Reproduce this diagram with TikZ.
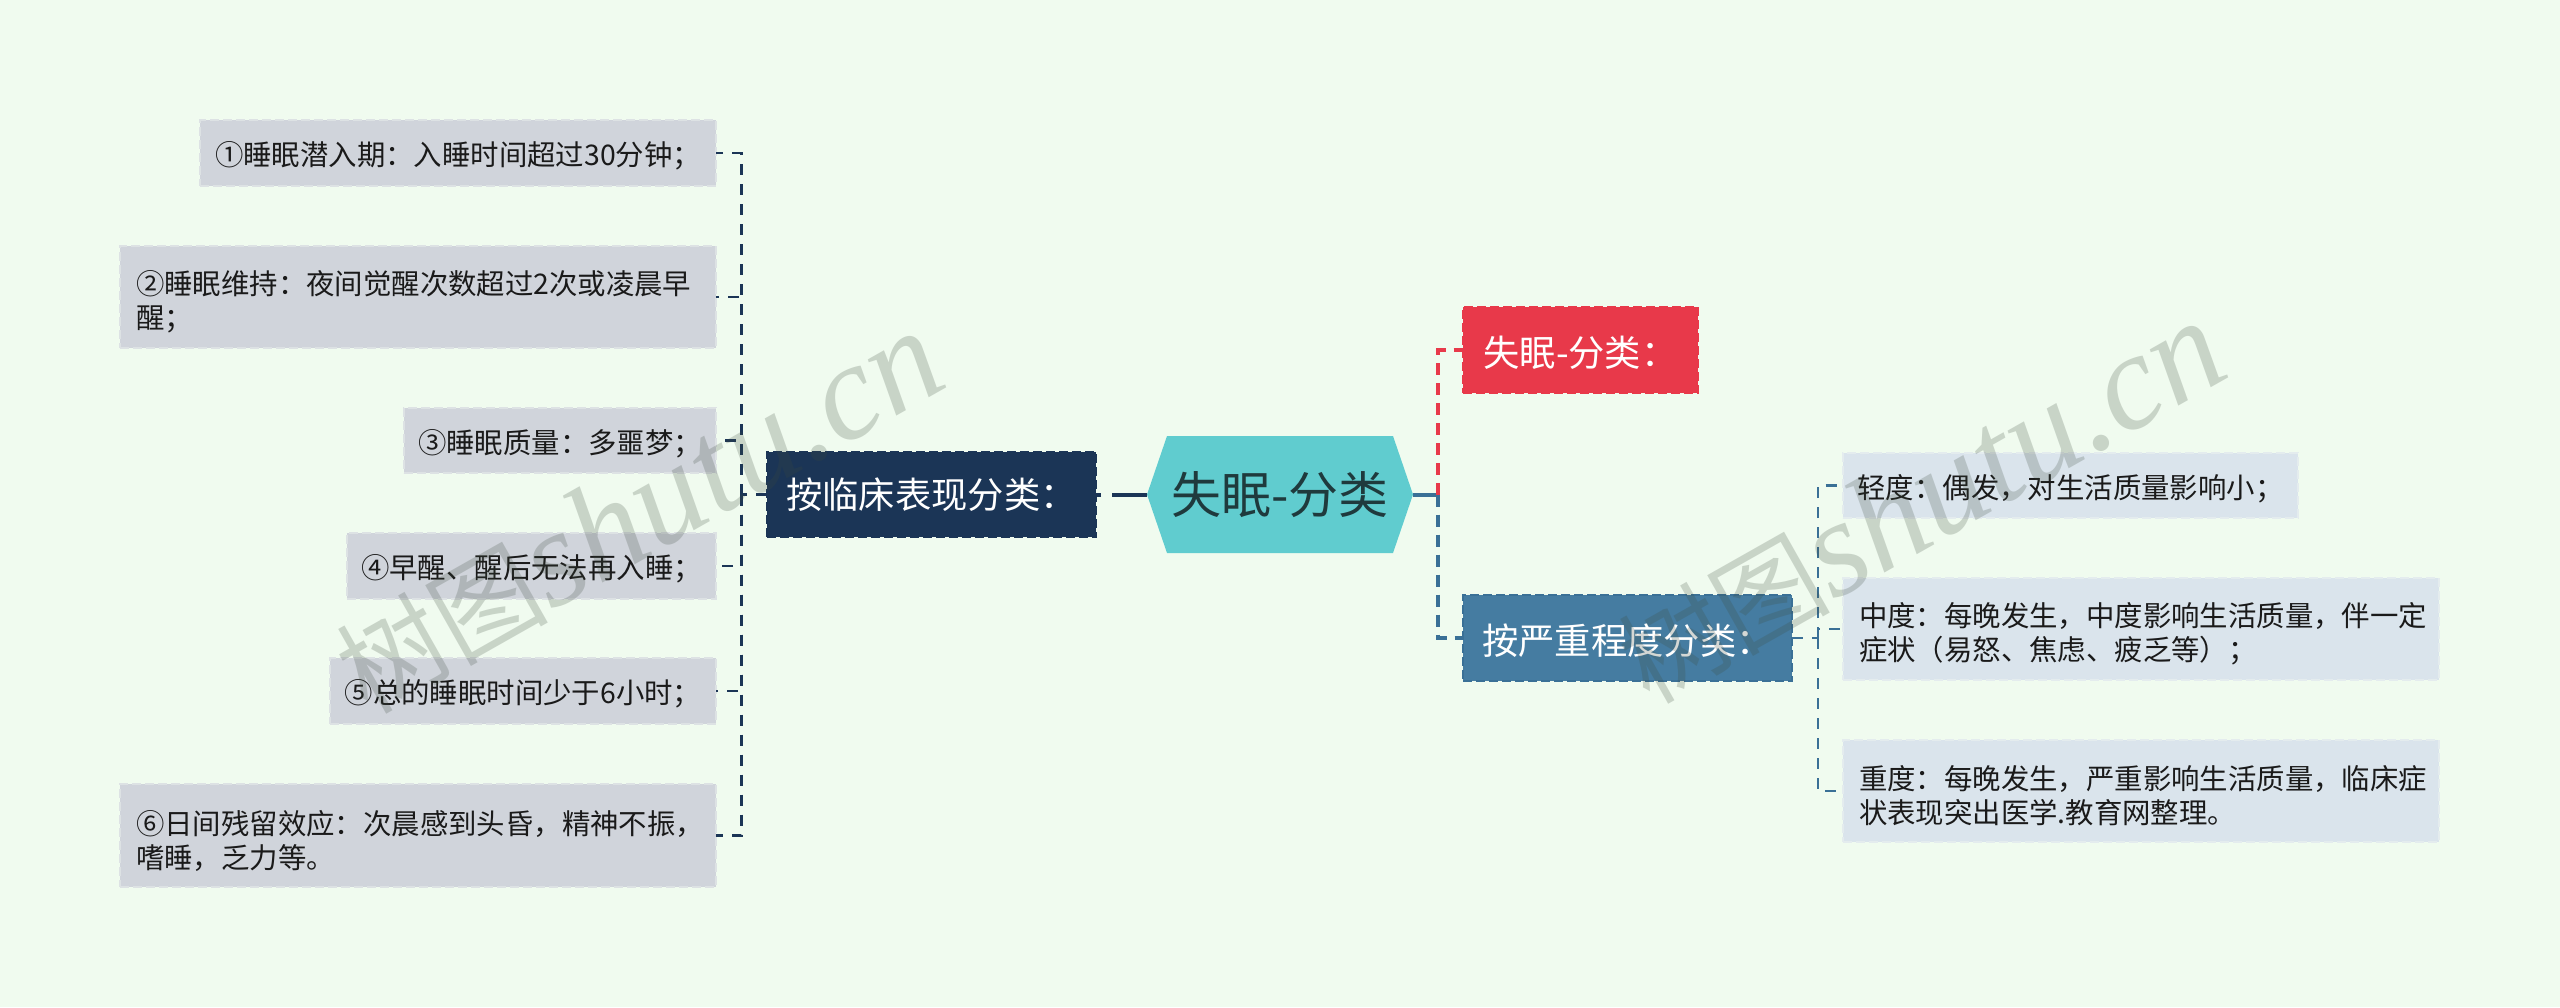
\documentclass[tikz,border=0pt]{standalone}
\usepackage{fontspec}
\setmainfont{Noto Sans CJK SC}
\newfontfamily\wmserif{Liberation Serif}[ItalicFont=* Italic]
\definecolor{bgc}{HTML}{F0FBEF}
\definecolor{rootc}{HTML}{60CCCF}
\definecolor{navyc}{HTML}{1B3556}
\definecolor{redc}{HTML}{E8394A}
\definecolor{bluec}{HTML}{457CA1}
\definecolor{bluel}{HTML}{3A7096}
\definecolor{leafl}{HTML}{D0D4DB}
\definecolor{leafld}{HTML}{DDE2E4}
\definecolor{leafr}{HTML}{DAE4EC}
\definecolor{leafrd}{HTML}{E4ECEE}
\definecolor{txtc}{HTML}{1A1A1A}
\definecolor{roottxt}{HTML}{1F3A3D}
\definecolor{wmc}{HTML}{3C4A3C}
\newcommand{\dn}[1]{\raisebox{-3pt}[\height][\depth]{#1}}
\newcommand{\dnn}[1]{\raisebox{-5pt}[\height][\depth]{#1}}
\newcommand{\wmtext}{{\fontsize{106}{106}\selectfont 树图}{\wmserif\itshape\fontsize{137}{137}\selectfont shutu.cn}}
\tikzset{
  x=1pt,y=-1pt,
  boxdash/.style={dash pattern=on 9pt off 4pt,line width=1.6pt},
  branchbox/.style={boxdash,rectangle,inner sep=0pt,outer sep=0pt,text=white,font=\fontsize{36.3}{46}\selectfont},
  leafbox/.style={boxdash,rectangle,inner sep=0pt,outer sep=0pt,text=txtc,font=\fontsize{28.4}{34}\selectfont},
  leftleaf/.style={leafbox,fill=leafl,draw=leafld},
  rightleaf/.style={leafbox,fill=leafr,draw=leafrd},
  twoline/.style={align=left,text width=#1},
  conn/.style={line width=2.4pt,dash pattern=on 11pt off 9pt},
  connl/.style={conn,draw=navyc},
  connr/.style={conn,draw=bluel},
  trunk/.style={line width=4pt,dash pattern=on 12pt off 8pt},
  wm/.style={anchor=base west,rotate=29.5,text=wmc,opacity=0.22,inner sep=0pt},
}
\begin{document}
\begin{tikzpicture}
\useasboundingbox (0,0) rectangle (2560,1007);
\fill[bgc] (0,0) rectangle (2560,1007);
% root shape
\fill[rootc] (1147,494.5) -- (1167,436) -- (1393,436) -- (1413,494.5) -- (1393,553) -- (1167,553) -- cycle;
\node[rectangle,inner sep=0pt,outer sep=0pt,minimum width=266pt,minimum height=117pt,text=roottxt,font=\fontsize{50}{56}\selectfont] (root) at (1280,494.5) {失眠-分类};
% branches
\node[branchbox,fill=navyc,draw=navyc,minimum width=329pt,minimum height=85pt] (dark) at (931.5,494.5) {按临床表现分类：};
\node[branchbox,fill=redc,draw=redc,minimum width=235pt,minimum height=86pt] (red) at (1580.5,350) {\dn{失眠-分类：}};
\node[branchbox,fill=bluec,draw=bluel,minimum width=329pt,minimum height=86pt] (blue) at (1627.5,638) {\dn{按严重程度分类：}};
% left leaves
\node[leftleaf,minimum width=516pt,minimum height=66pt] (l1) at (458,153) {\dn{①睡眠潜入期：入睡时间超过30分钟；}};
\node[leftleaf,minimum width=596pt,minimum height=102pt,twoline=564pt] (l2) at (418,297) {\dnn{②睡眠维持：夜间觉醒次数超过2次或凌晨早}\\\dnn{醒；}};
\node[leftleaf,minimum width=312pt,minimum height=65pt] (l3) at (560,440.5) {\dn{③睡眠质量：多噩梦；}};
\node[leftleaf,minimum width=369pt,minimum height=66pt] (l4) at (531.5,566) {\dn{④早醒、醒后无法再入睡；}};
\node[leftleaf,minimum width=386pt,minimum height=66pt] (l5) at (523,691) {\dn{⑤总的睡眠时间少于6小时；}};
\node[leftleaf,minimum width=596pt,minimum height=103pt,twoline=564pt] (l6) at (418,835.5) {\dnn{⑥日间残留效应：次晨感到头昏，精神不振，}\\\dnn{嗜睡，乏力等。}};
% right leaves
\node[rightleaf,minimum width=455pt,minimum height=65pt] (r1) at (2070.5,485.5) {\dn{轻度：偶发，对生活质量影响小；}};
\node[rightleaf,minimum width=596pt,minimum height=102pt,twoline=564pt] (r2) at (2141,629) {\dnn{中度：每晚发生，中度影响生活质量，伴一定}\\\dnn{症状（易怒、焦虑、疲乏等）；}};
\node[rightleaf,minimum width=596pt,minimum height=102pt,twoline=564pt] (r3) at (2141,791) {\dnn{重度：每晚发生，严重影响生活质量，临床症}\\\dnn{状表现突出医学.教育网整理。}};
% connectors
\coordinate (rj) at (1438,494.5);
\coordinate (sl) at (741.5,494.5);
\coordinate (sr) at (1818,638);
\draw[line width=4pt,draw=navyc,dash pattern=on 35pt off 11pt] (root.west) -- (dark.east);
\draw[line width=4pt,draw=bluel] (root.east) -- (rj);
\draw[trunk,draw=redc] (rj) |- (red.west);
\draw[trunk,draw=bluel] (rj) |- (blue.west);
\draw[connl] (dark.west) -- (sl);
\foreach \n in {l1,l2,l3,l4,l5,l6} \draw[connl] (sl) |- (\n.east);
\draw[connr] (blue.east) -- (sr);
\foreach \n in {r1,r2,r3} \draw[connr] (sr) |- (\n.west);
% watermarks
\node[wm] (wa) at (367,716) {\wmtext};
\node[wm] (wb) at (1649,706) {\wmtext};
\end{tikzpicture}
\end{document}
